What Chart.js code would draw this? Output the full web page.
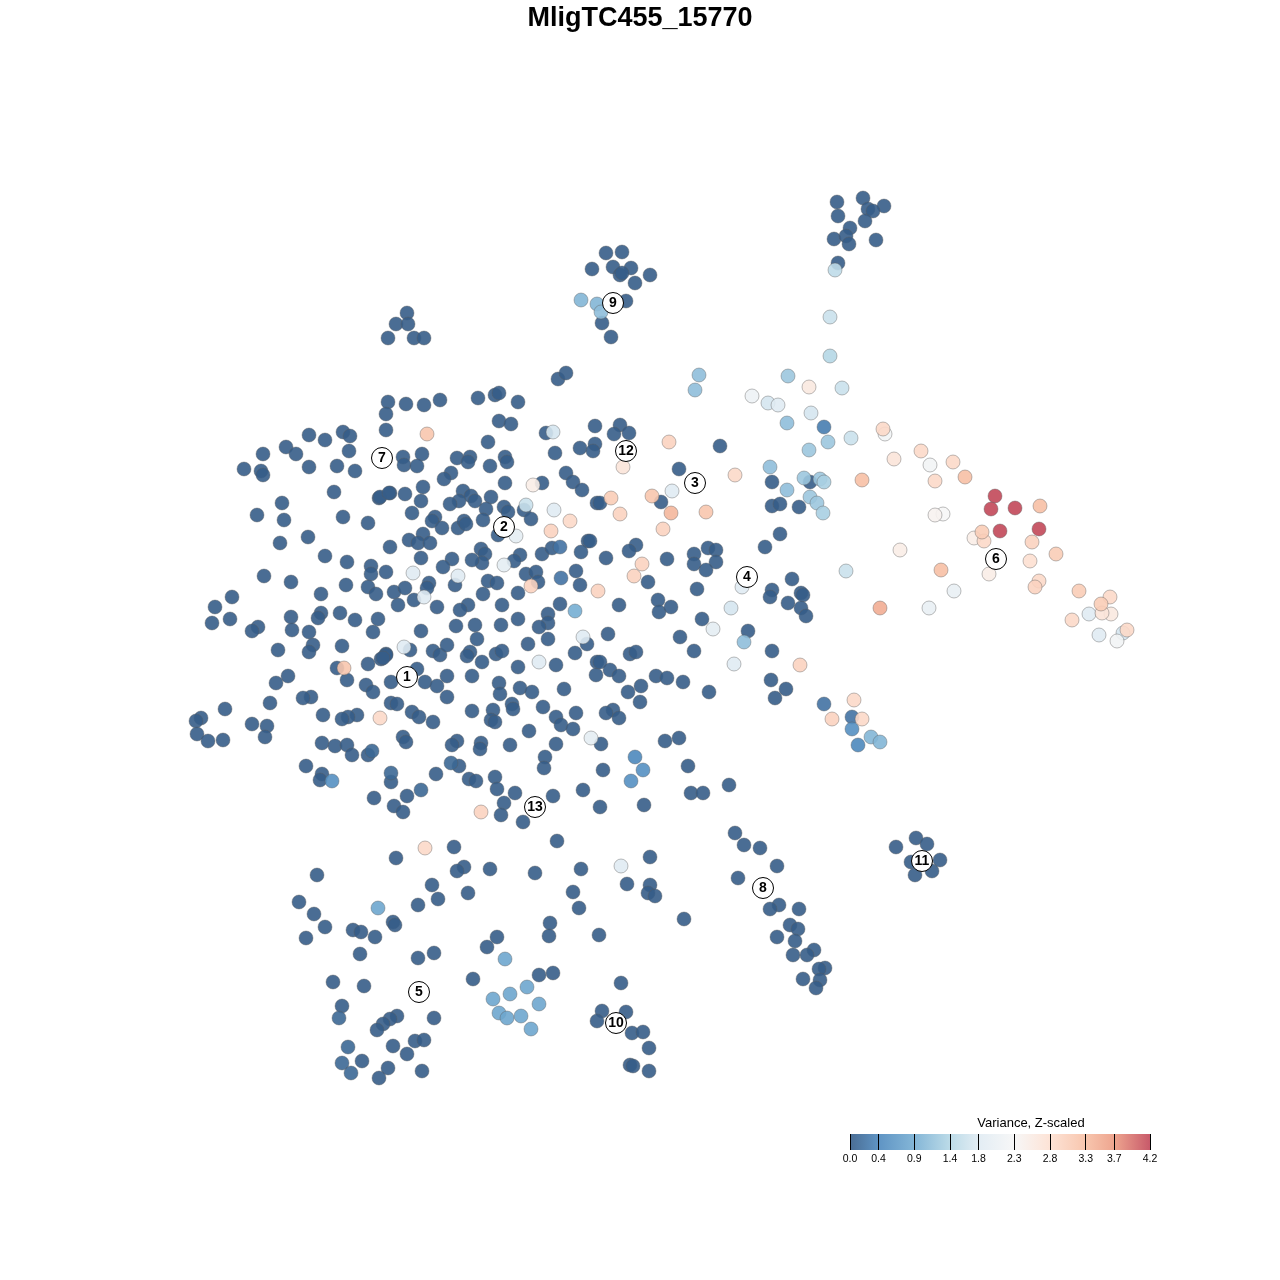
<!DOCTYPE html>
<html>
<head>
<meta charset="utf-8">
<title>MligTC455_15770</title>
<script src="https://cdn.jsdelivr.net/npm/chart.js@4/dist/chart.umd.min.js"></script>
<style>
html, body { margin: 0; padding: 0; background: #fff; }
#wrap { position: relative; width: 1280px; height: 1280px; }
#mapChart { position: absolute; left: 0; top: 0; }
#barChart { position: absolute; left: 830px; top: 1134px; }
#barTitle { position: absolute; left: 931px; top: 1115px; width: 200px; text-align: center; font: 13px "Liberation Sans", Arial, sans-serif; color: #000; }
</style>
</head>
<body>
<div id="wrap">
<canvas id="mapChart" width="1280" height="1280"></canvas>
<canvas id="barChart" width="340" height="32"></canvas>
<div id="barTitle"></div>
</div>
<script>
const geneName = 'MligTC455_15770';
const legendTitle = 'Variance, Z-scaled';
const legendTicks = [0.0, 0.4, 0.9, 1.4, 1.8, 2.3, 2.8, 3.3, 3.7, 4.2];
// couleur vue sur fond blanc a chaque graduation
const legendColors = ['#4a6d94', '#5f94c4', '#84b6d7', '#bcdbe8', '#e3edf4', '#f7f7f7', '#fde3d6', '#f8c6ae', '#eea58f', '#c85a6a'];

const clusterLabels = ['1', '2', '3', '4', '5', '6', '7', '8', '9', '10', '11', '12', '13'];
const clusterX = [407, 504, 695, 747, 419, 996, 382, 763, 613, 616, 922, 626, 535];
const clusterY = [677, 527, 483, 577, 992, 559, 458, 888, 303, 1023, 861, 451, 807];

// cellules a variance 0 : [x, y]
const zeroCells = [
[388,402],[386,414],[386,430],[309,435],[325,440],[343,432],[350,436],[349,451],[263,454],[286,447],[296,454],[244,469],[261,471],[263,475],[309,467],[337,466],[355,471],[334,492],[379,498],[380,497],[390,493],[282,503],[257,515],[284,520],[343,517],[368,523],[308,537],[280,543],[390,547],[325,556],[347,562],[371,566],[371,574],[386,572],[264,576],[291,582],[346,585],[368,587],[376,594],[394,592],[321,594],[232,597],
[406,404],[424,405],[440,400],[478,398],[495,395],[499,393],[518,402],[499,421],[511,424],[558,379],[566,373],[546,433],[595,426],[488,442],[580,448],[595,444],[593,451],[555,453],[403,457],[404,465],[422,454],[417,466],[457,458],[470,457],[468,462],[490,466],[505,457],[507,462],[451,473],[444,479],[505,483],[423,487],[566,473],[573,482],[582,490],[597,503],[542,483],[389,493],[405,494],[421,501],[463,491],[471,496],[475,501],[491,497],[459,501],[450,504],[412,513],[435,517],[432,521],[442,528],[458,528],[464,521],[466,524],[486,509],[504,507],[508,512],[483,520],[524,510],[531,519],[498,535],[423,534],[409,540],[418,543],[430,543],[588,541],[581,552],[542,554],[552,548],[481,549],[485,554],[482,563],[472,560],[452,559],[443,567],[520,555],[514,561],[421,558],[526,574],[536,572],[538,582],[576,571],[580,585],[488,581],[497,583],[455,585],[429,583],[427,588],[405,588],[483,594],[518,593],
[215,607],[230,619],[212,623],[258,627],[252,631],[291,617],[292,630],[278,650],[309,632],[321,613],[318,618],[340,613],[355,620],[378,619],[373,632],[342,646],[313,645],[309,652],[368,664],[386,654],[381,659],[337,668],[347,680],[288,676],[276,683],[366,685],[373,692],[391,682],[270,703],[311,697],[303,698],[225,709],[323,715],[357,715],[348,717],[342,719],[391,703],[397,704],[201,718],[196,721],[197,734],[208,741],[223,740],[252,724],[267,726],[265,737],[322,743],[335,746],[347,745],[352,755],[368,755],[306,766],[322,774],[320,780],[391,782],[374,798],[394,806],
[398,605],[414,600],[437,607],[468,605],[460,610],[502,605],[560,604],[548,614],[548,623],[539,627],[456,626],[475,625],[501,625],[518,619],[421,631],[477,639],[528,644],[548,639],[587,644],[575,653],[410,650],[433,651],[440,655],[447,645],[386,655],[383,658],[470,652],[467,656],[496,654],[502,651],[482,662],[556,665],[518,667],[597,662],[596,675],[417,669],[447,676],[472,676],[425,682],[437,686],[499,683],[520,688],[532,692],[564,689],[500,694],[447,697],[512,704],[513,709],[412,712],[419,717],[433,722],[472,711],[493,710],[491,720],[495,722],[543,707],[576,713],[556,717],[561,725],[573,729],[529,731],[403,737],[406,742],[457,741],[452,745],[481,743],[480,749],[510,745],[556,744],[545,757],[544,768],[459,766],[436,774],[469,779],[476,781],[495,777],[497,789],[515,793],[407,796],[553,796],[583,790],[504,803],[403,812],
[501,815],[523,822],[600,807],[644,805],[603,770],[601,744],[665,741],[679,738],[688,766],[691,793],[703,793],[729,785],
[557,841],[454,847],[396,858],[317,875],[464,867],[457,871],[490,869],[535,873],[581,869],[573,892],[579,908],[432,885],[438,899],[468,893],[418,905],[299,902],[314,914],[325,927],[306,938],[353,930],[361,932],[375,937],[393,922],[395,925],[360,954],[418,958],[434,953],[497,937],[487,947],[550,923],[549,936],[333,982],[364,986],[473,979],[539,975],[553,973],[342,1006],[397,1016],[390,1019],[383,1024],[377,1030],[434,1018],[393,1046],[415,1041],[424,1040],[407,1054],[362,1061],[388,1068],[379,1078],[422,1071],
[650,857],[627,884],[650,885],[648,893],[655,896],[684,919],[599,935],[621,983],[602,1011],[626,1012],[597,1021],[632,1033],[643,1032],[649,1048],[630,1065],[633,1066],[649,1071],
[735,833],[744,845],[760,848],[777,866],[738,878],[779,905],[770,909],[799,909],[790,925],[798,929],[777,937],[795,941],[814,950],[793,955],[807,955],[825,968],[819,969],[803,979],[820,980],[816,988],
[916,838],[927,844],[896,847],[911,862],[922,862],[940,860],[932,871],[915,875],
[837,202],[863,198],[884,206],[868,209],[873,211],[838,216],[865,221],[850,228],[834,239],[846,236],[849,244],[876,240],[838,263],
[606,253],[622,252],[592,269],[613,267],[631,268],[620,275],[622,273],[650,275],[635,283],[626,301],[602,323],[611,337],
[407,313],[396,324],[408,324],[388,338],[414,338],[424,338],
[620,425],[629,433],[614,434],[720,446],[679,469],[772,482],[810,482],[772,506],[780,504],[799,507],[600,503],[661,502],[590,541],[636,545],[629,551],[606,558],[667,559],[648,582],[780,534],[765,547],[694,554],[708,548],[716,550],[716,562],[694,564],[706,570],[792,579],[772,590],[770,597],[801,593],[803,595],[788,603],[801,608],[806,616],[697,589],[658,600],[659,612],[671,607],[619,605],[702,619],[748,631],[680,637],[608,634],[694,651],[772,651],[630,654],[636,652],
[771,680],[786,689],[775,698],[600,662],[610,670],[619,676],[628,692],[641,686],[640,702],[656,676],[667,678],[683,682],[709,692],[613,710],[606,713],[619,718]
];

// autres cellules : [x, y, variance], de la plus faible a la plus forte
const otherCells = [
[372,751,0.1],[391,773,0.1],[451,763,0.1],[339,1018,0.1],[348,1047,0.1],[342,1063,0.1],[351,1073,0.1],[421,790,0.1],
[561,578,0.2],[560,547,0.2],[824,704,0.2],[852,717,0.2],[824,427,0.3],[858,745,0.4],[635,757,0.4],[332,781,0.5],[643,770,0.5],[631,781,0.5],[852,729,0.5],
[378,908,0.8],[505,959,0.8],[493,999,0.8],[510,994,0.8],[527,987,0.8],[539,1004,0.8],[499,1013,0.8],[507,1018,0.8],[521,1016,0.8],[531,1029,0.8],
[575,611,0.9],[581,300,1.0],[597,304,1.0],[871,737,1.0],[880,742,1.0],[601,312,1.1],[695,390,1.1],[699,375,1.1],[787,423,1.1],[770,467,1.1],[787,490,1.1],[744,642,1.1],
[788,376,1.2],[828,442,1.2],[809,450,1.2],[804,478,1.2],[820,479,1.2],[810,497,1.2],[817,503,1.2],[823,513,1.3],[824,482,1.3],[830,356,1.4],[835,270,1.5],
[830,317,1.6],[526,505,1.6],[842,388,1.6],[851,438,1.6],[846,571,1.6],[553,432,1.7],[768,403,1.7],[811,413,1.7],[731,608,1.7],[1123,633,1.7],
[413,573,1.8],[458,576,1.8],[554,510,1.8],[424,597,1.8],[583,637,1.8],[404,647,1.8],[539,662,1.8],[778,405,1.8],[742,587,1.8],[672,491,1.8],[734,664,1.8],[621,866,1.8],[1089,614,1.8],[1099,635,1.8],
[516,536,1.9],[504,565,1.9],[591,738,1.9],[713,629,1.9],[954,591,2.0],[929,608,2.0],[752,396,2.1],[885,434,2.2],[930,465,2.2],[1117,641,2.2],[943,514,2.3],
[935,515,2.4],[533,485,2.5],[974,538,2.5],[900,550,2.5],[989,574,2.5],[809,387,2.6],[1111,614,2.6],[623,467,2.7],[894,459,2.7],[1102,613,2.7],[1030,561,2.8],
[425,848,2.9],[380,718,2.9],[570,521,2.9],[735,475,2.9],[854,700,2.9],[862,719,2.9],[883,429,2.9],[921,451,2.9],[953,462,2.9],[935,481,2.9],[984,541,2.9],[1039,581,2.9],[1110,597,2.9],[1072,620,2.9],[1127,630,2.9],
[481,812,3.0],[551,531,3.0],[531,586,3.0],[598,591,3.0],[669,442,3.0],[620,514,3.0],[663,529,3.0],[642,564,3.0],[634,576,3.0],[800,665,3.0],[832,719,3.0],[1032,542,3.0],[1035,587,3.0],
[982,532,3.1],[1056,554,3.1],[611,498,3.1],[1079,591,3.1],[1101,604,3.1],[427,434,3.2],[344,668,3.2],[652,496,3.2],[706,512,3.2],[965,477,3.3],[862,480,3.3],[1040,506,3.3],[941,570,3.3],[671,513,3.4],[880,608,3.5],
[995,496,4.2],[991,509,4.2],[1015,508,4.2],[1000,531,4.2],[1039,529,4.2]
];

const pointAlpha = 0.9;

function hexToRgb(hex) {
    return [1, 3, 5].map(i => parseInt(hex.slice(i, i + 2), 16));
}

// interpole la couleur de la legende puis la remet en rgba pour garder la transparence
function varianceColor(v) {
    let i = legendTicks.findIndex(t => t >= v);
    if (i <= 0) i = 1;
    const t = (v - legendTicks[i - 1]) / (legendTicks[i] - legendTicks[i - 1]);
    const a = hexToRgb(legendColors[i - 1]);
    const b = hexToRgb(legendColors[i]);
    const rgb = a.map((c, k) => {
        const seen = c + (b[k] - c) * t;
        return Math.max(0, Math.round((seen - 255 * (1 - pointAlpha)) / pointAlpha));
    });
    return `rgba(${rgb[0]},${rgb[1]},${rgb[2]},${pointAlpha})`;
}

// numeros des clusters au centre des cercles blancs
const clusterNumbers = {
    id: 'clusterNumbers',
    afterDatasetsDraw(chart) {
        const ctx = chart.ctx;
        const meta = chart.getDatasetMeta(2);
        ctx.save();
        ctx.font = 'bold 14px "Liberation Sans", Arial, sans-serif';
        ctx.fillStyle = '#000';
        ctx.textAlign = 'center';
        ctx.textBaseline = 'middle';
        meta.data.forEach((pt, i) => {
            ctx.fillText(clusterLabels[i], pt.x, pt.y + 0.5);
        });
        ctx.restore();
    }
};

new Chart(document.getElementById('mapChart'), {
    type: 'scatter',
    data: {
        datasets: [
            {
                // order : le plus grand est dessine en premier
                order: 3,
                data: zeroCells.map(c => ({ x: c[0], y: c[1] })),
                backgroundColor: varianceColor(0),
                borderColor: 'rgba(90,90,90,0.4)',
                borderWidth: 1,
                pointRadius: 7
            },
            {
                order: 2,
                data: otherCells.map(c => ({ x: c[0], y: c[1] })),
                backgroundColor: otherCells.map(c => varianceColor(c[2])),
                borderColor: 'rgba(90,90,90,0.4)',
                borderWidth: 1,
                pointRadius: 7
            },
            {
                order: 1,
                data: clusterX.map((x, i) => ({ x: x, y: clusterY[i] })),
                backgroundColor: '#fff',
                borderColor: '#000',
                borderWidth: 1,
                pointRadius: 10.5
            }
        ]
    },
    options: {
        responsive: false,
        animation: false,
        layout: { padding: 0, autoPadding: false },
        plugins: {
            legend: { display: false },
            tooltip: { enabled: false },
            title: {
                display: true,
                text: geneName,
                color: '#000',
                font: { family: '"Liberation Sans", Arial, sans-serif', size: 27, weight: 'bold' },
                padding: { top: 2, bottom: 3 }
            }
        },
        scales: {
            x: { type: 'linear', display: false, min: 0, max: 1280 },
            y: { type: 'linear', display: false, reverse: true, min: 37.4, max: 1280 }
        }
    },
    plugins: [clusterNumbers]
});

document.getElementById('barTitle').textContent = legendTitle;

new Chart(document.getElementById('barChart'), {
    type: 'bar',
    data: {
        labels: [''],
        datasets: [{
            data: [legendTicks[legendTicks.length - 1]],
            barPercentage: 1,
            categoryPercentage: 1,
            backgroundColor(context) {
                const chart = context.chart;
                if (!chart.chartArea) return legendColors[0];
                const x = chart.scales.x;
                const grad = chart.ctx.createLinearGradient(x.left, 0, x.right, 0);
                legendTicks.forEach((t, i) => {
                    grad.addColorStop(t / legendTicks[legendTicks.length - 1], legendColors[i]);
                });
                return grad;
            }
        }]
    },
    options: {
        indexAxis: 'y',
        responsive: false,
        animation: false,
        layout: { padding: { left: 20, right: 20, top: 0, bottom: 0 }, autoPadding: false },
        plugins: {
            legend: { display: false },
            tooltip: { enabled: false }
        },
        scales: {
            x: {
                type: 'linear',
                min: 0,
                max: legendTicks[legendTicks.length - 1],
                afterBuildTicks(axis) {
                    axis.ticks = legendTicks.map(v => ({ value: v }));
                },
                grid: { color: '#000', lineWidth: 1, z: 1, drawTicks: false },
                border: { display: false },
                ticks: {
                    color: '#000',
                    padding: 3,
                    autoSkip: false,
                    maxRotation: 0,
                    font: { family: '"Liberation Sans", Arial, sans-serif', size: 10.5 },
                    callback: v => v.toFixed(1)
                }
            },
            y: { display: false }
        }
    }
});
</script>
</body>
</html>
